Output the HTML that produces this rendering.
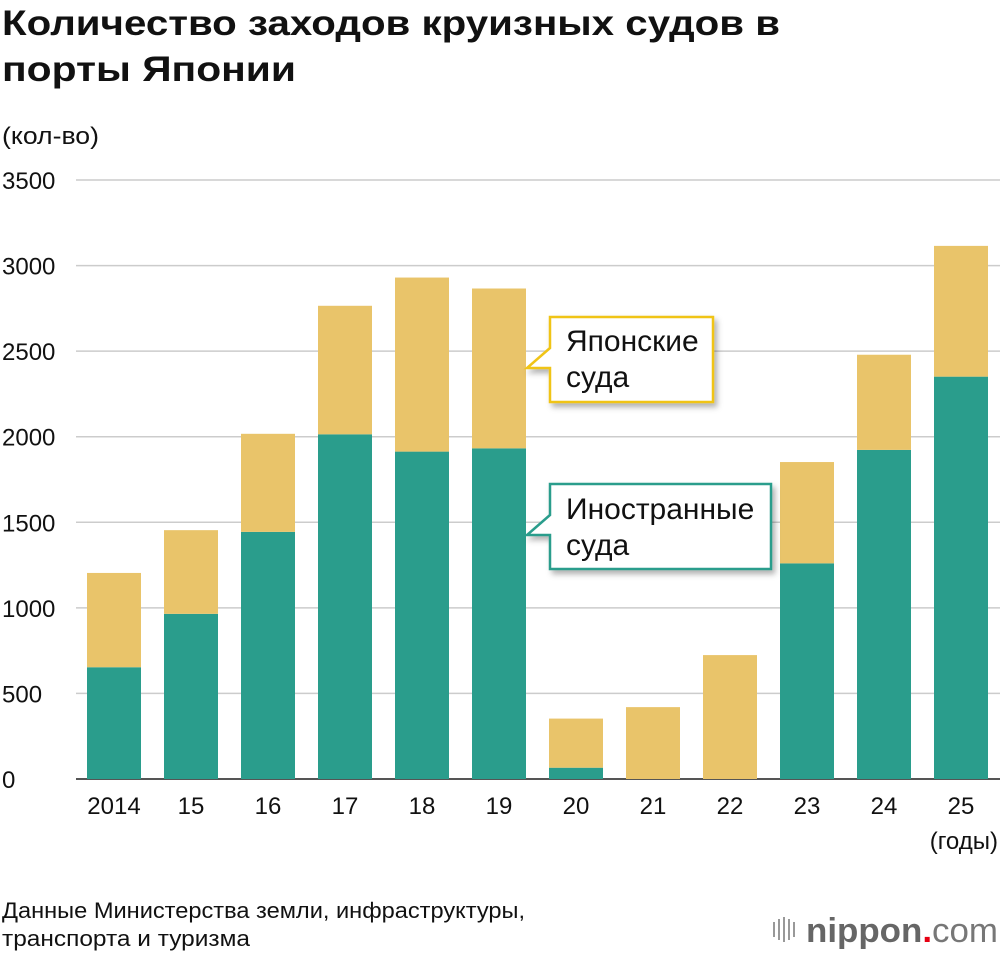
<!DOCTYPE html>
<html><head><meta charset="utf-8"><style>
body{margin:0;background:#fff;font-family:"Liberation Sans",sans-serif;}
svg{display:block}
</style></head><body>
<svg width="1000" height="956" xmlns="http://www.w3.org/2000/svg" id="chart">
<defs><filter id="sh" x="-10%" y="-10%" width="130%" height="140%"><feDropShadow dx="3" dy="4" stdDeviation="3" flood-color="#000" flood-opacity="0.3"/></filter></defs>
<text x="2" y="35" font-size="35" font-weight="bold" fill="#111" textLength="778" lengthAdjust="spacingAndGlyphs">Количество заходов круизных судов в</text>
<text x="2" y="81" font-size="35" font-weight="bold" fill="#111" textLength="294" lengthAdjust="spacingAndGlyphs">порты Японии</text>
<text x="2" y="144" font-size="24" fill="#111" textLength="97" lengthAdjust="spacingAndGlyphs">(кол-во)</text>
<g id="grid"></g>
<g id="bars"></g>
<g id="xlabels"></g>
<text x="998" y="849" font-size="24" text-anchor="end" fill="#111">(годы)</text>
<g>
<path d="M550,317 H713 V402 H550 V368 L527,368 L550,348 Z" fill="#fff" stroke="#f0c419" stroke-width="2.5" filter="url(#sh)"/>
<text x="566" y="351" font-size="30" fill="#111">Японские</text>
<text x="566" y="387" font-size="30" fill="#111">суда</text>
</g>
<g>
<path d="M550,484 H771 V569 H550 V535 L527,535 L550,515 Z" fill="#fff" stroke="#2a9d8c" stroke-width="2.5" filter="url(#sh)"/>
<text x="566" y="519" font-size="30" fill="#111">Иностранные</text>
<text x="566" y="555" font-size="30" fill="#111">суда</text>
</g>
<text x="2" y="918" font-size="22" fill="#111" textLength="523" lengthAdjust="spacingAndGlyphs">Данные Министерства земли, инфраструктуры,</text>
<text x="2" y="946" font-size="22" fill="#111" textLength="248" lengthAdjust="spacingAndGlyphs">транспорта и туризма</text>
<g>
<g stroke="#999" stroke-width="2"><line x1="774" y1="937" x2="774" y2="922"/><line x1="779" y1="940" x2="779" y2="919"/><line x1="784" y1="942" x2="784" y2="917"/><line x1="789" y1="940" x2="789" y2="919"/><line x1="794" y1="937" x2="794" y2="922"/></g>
<text x="806" y="942" font-size="34" font-weight="bold" fill="#666" textLength="192" lengthAdjust="spacingAndGlyphs">nippon<tspan fill="#e60012">.</tspan><tspan font-weight="normal" fill="#777">com</tspan></text>
</g>
</svg>
<script>
const years=["2014","15","16","17","18","19","20","21","22","23","24","25"];
const foreign=[653,965,1444,2014,1913,1932,66,0,0,1260,1923,2351];
const japanese=[551,489,573,751,1017,934,287,420,724,592,556,764];
const yTicks=[0,500,1000,1500,2000,2500,3000,3500];
const NS="http://www.w3.org/2000/svg";
const y0=779,pxPer=599/3500;
const yS=v=>y0-v*pxPer;
const xC=i=>114+i*77;
const bw=54;
function mk(tag,attrs,parent){const e=document.createElementNS(NS,tag);for(const k in attrs)e.setAttribute(k,attrs[k]);parent.appendChild(e);return e;}
const grid=document.getElementById('grid'),bars=document.getElementById('bars'),xl=document.getElementById('xlabels');
yTicks.forEach(t=>{
 const l=mk('line',{x1:76,x2:1000,y1:yS(t),y2:yS(t),stroke:t===0?'#555':'#ccc','stroke-width':t===0?2:1.5},grid);
 
 
 const tx=mk('text',{x:2,y:yS(t)+9,'font-size':24,fill:'#111'},grid);
 tx.textContent=t;
 
 
});
years.forEach((yr,i)=>{
 const f=foreign[i],j=japanese[i];
 const rf=mk('rect',{x:xC(i)-bw/2,y:yS(f),width:bw,height:y0-yS(f),fill:'#2a9d8c'},bars);
 
 
 const rj=mk('rect',{x:xC(i)-bw/2,y:yS(f+j),width:bw,height:yS(f)-yS(f+j),fill:'#e9c46a'},bars);
 
 
 const t=mk('text',{x:xC(i),y:814,'font-size':24,'text-anchor':'middle',fill:'#111'},xl);
 t.textContent=yr;
 
 
});
</script>
</body></html>
